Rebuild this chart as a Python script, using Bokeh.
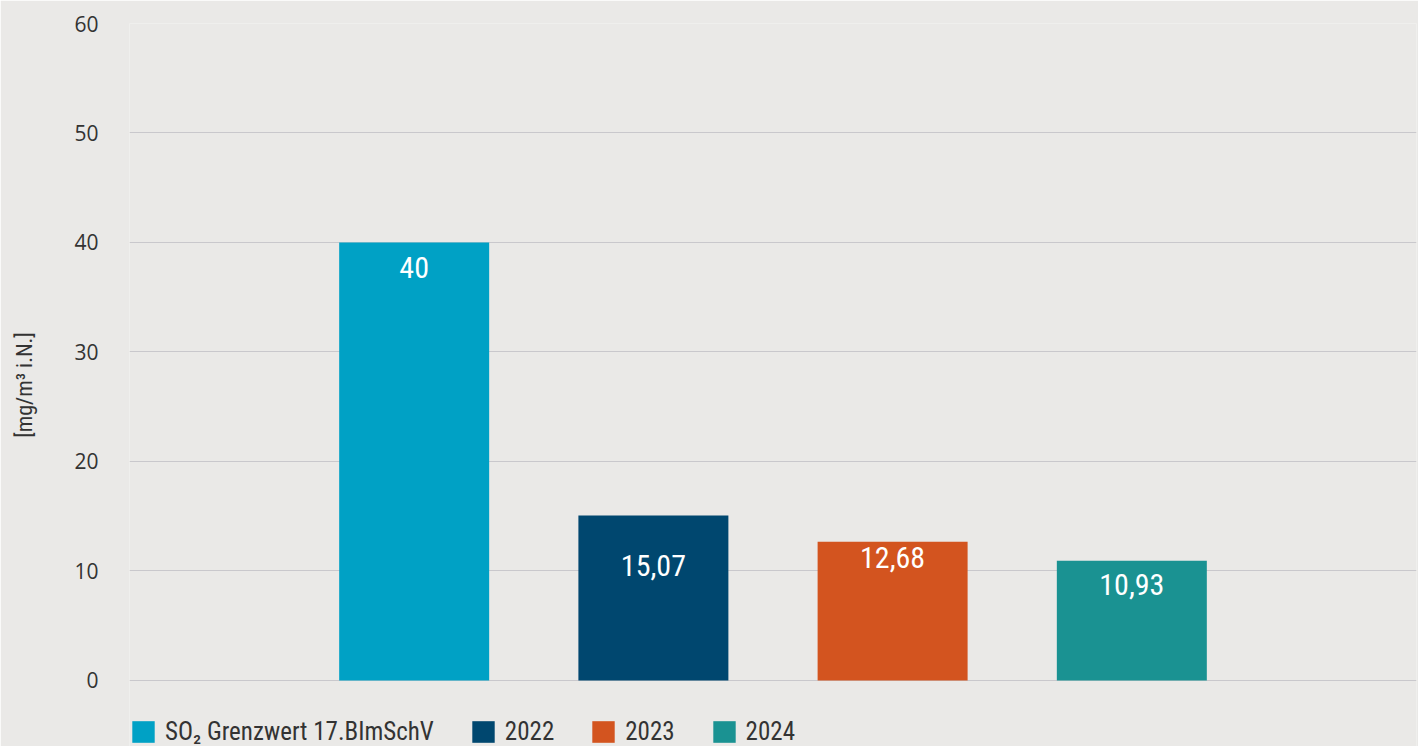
from bokeh.plotting import figure
from bokeh.models import ColumnDataSource, Range1d, Legend, LegendItem, FixedTicker
from bokeh.core.properties import value
from bokeh.embed import file_html
from bokeh.resources import INLINE

# ---- data ----
categories = ["SO\u2082 Grenzwert 17.BImSchV", "2022", "2023", "2024"]
values = [40, 15.07, 12.68, 10.93]
value_labels = ["40", "15,07", "12,68", "10,93"]
y_ticks = [0, 10, 20, 30, 40, 50, 60]

# ---- styles ----
colors = ["#00A1C5", "#00476F", "#D3541F", "#1A9292"]
label_offsets = [25, 50, 16, 24]
BG = "#EAE9E7"
COND = "Roboto Condensed"

xs = list(range(1, len(categories) + 1))

p = figure(width=1418, height=746, output_backend="svg", toolbar_location=None,
           x_range=Range1d(-0.19, len(categories) + 1.19), y_range=Range1d(-6.03, 60))
p.min_border_left = 129
p.min_border_right = 2
p.min_border_top = 23
p.min_border_bottom = 0
p.background_fill_color = BG
p.border_fill_color = BG
p.outline_line_color = None

p.xaxis.visible = False
p.xgrid.visible = False

yax = p.yaxis[0]
yax.ticker = FixedTicker(ticks=y_ticks)
yax.axis_line_color = None
yax.major_tick_line_color = None
yax.minor_tick_line_color = None
yax.major_tick_out = 0
yax.major_label_standoff = 31
yax.major_label_text_font = "Open Sans"
yax.major_label_text_font_size = "21px"
yax.major_label_text_color = "#333333"
yax.axis_label = "[mg/m\u00b3 i.N.]"
yax.axis_label_text_font = COND
yax.axis_label_text_font_style = "normal"
yax.axis_label_text_font_size = "22px"
yax.axis_label_text_color = "#333333"
yax.axis_label_standoff = 34

p.ygrid.ticker = FixedTicker(ticks=y_ticks)
p.ygrid.grid_line_color = "#C9C8CC"
p.ygrid.grid_line_width = 1

renderers = []
for i, (x, v, c) in enumerate(zip(xs, values, colors)):
    src = ColumnDataSource(dict(x=[x], top=[v]))
    r = p.vbar(x="x", top="top", width=0.627, bottom=0, source=src,
               fill_color=c, line_color=None)
    renderers.append(r)

tsrc = ColumnDataSource(dict(x=xs, y=values, t=value_labels, off=label_offsets))
p.text(x="x", y="y", text="t", y_offset="off", source=tsrc,
       text_align="center", text_baseline="middle", text_color="white",
       text_font=value(COND), text_font_size="30px")

legend = Legend(items=[LegendItem(label=c, renderers=[r]) for c, r in zip(categories, renderers)],
                location=(0, 0), orientation="horizontal")
legend.glyph_width = 28
legend.glyph_height = 27
legend.label_standoff = 8
legend.spacing = 35
legend.padding = 0
legend.margin = 0
legend.border_line_color = None
legend.background_fill_alpha = 0
legend.label_text_font = COND
legend.label_text_font_size = "25px"
legend.label_text_color = "#333333"
legend.label_height = 27
p.add_layout(legend, "center")

open("out.html", "w").write(file_html(p, INLINE))
